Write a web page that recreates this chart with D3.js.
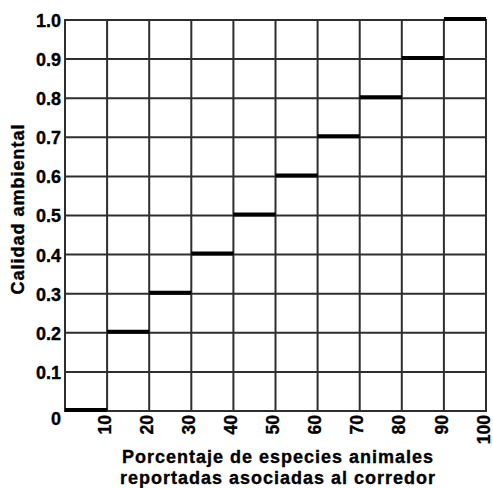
<!DOCTYPE html>
<html>
<head>
<meta charset="utf-8">
<script src="https://cdn.jsdelivr.net/npm/d3@7"></script>
<style>
  html, body { margin: 0; padding: 0; background: #fff; }
  svg { display: block; }
  text { font-family: "Liberation Sans", Arial, sans-serif; font-weight: bold; fill: #000;
         stroke: #000; stroke-width: 0.35px; }
</style>
</head>
<body>
<svg id="chart" width="493" height="488"></svg>
<script>
// Bins of percentage of reported animal species (lower and upper bound)
const binStart = [0, 10, 20, 30, 40, 50, 60, 70, 80, 90];
const binEnd   = [10, 20, 30, 40, 50, 60, 70, 80, 90, 100];
// Environmental quality assigned to each bin
const quality  = [0, 0.2, 0.3, 0.4, 0.5, 0.6, 0.7, 0.8, 0.9, 1.0];

const xTicks = [10, 20, 30, 40, 50, 60, 70, 80, 90, 100];
const yTicks = [0, 0.1, 0.2, 0.3, 0.4, 0.5, 0.6, 0.7, 0.8, 0.9, 1.0];

const svg = d3.select("#chart");
const margin = { left: 65, right: 7, top: 20, bottom: 77 };
const W = 493, H = 488;

const x = d3.scaleLinear().domain([0, 100]).range([margin.left, W - margin.right]);
const y = d3.scaleLinear().domain([0, 1]).range([H - margin.bottom, margin.top]);

const gridColor = "#2e2e2e";
const fontFamily = '"Liberation Sans", Arial, sans-serif';

// Grid
const grid = svg.append("g");
grid.selectAll("line.v").data([0].concat(xTicks)).join("line")
  .attr("x1", d => x(d)).attr("x2", d => x(d))
  .attr("y1", y(0)).attr("y2", y(1))
  .attr("stroke", gridColor).attr("stroke-width", 2);
grid.selectAll("line.h").data(yTicks).join("line")
  .attr("x1", x(0) - 1).attr("x2", x(100) + 1)
  .attr("y1", d => y(d)).attr("y2", d => y(d))
  .attr("stroke", gridColor).attr("stroke-width", 2);

// Y axis labels
const yAxis = d3.axisLeft(y).tickValues(yTicks)
  .tickFormat(d => d === 0 ? "0" : d3.format(".1f")(d))
  .tickSize(0).tickPadding(4);
const gy = svg.append("g").attr("transform", `translate(${x(0)},0)`).call(yAxis);
gy.select(".domain").remove();
gy.selectAll("text")
  .style("font-size", "18px").style("font-family", fontFamily)
  .style("font-weight", "bold").attr("fill", "#000")
  .attr("dy", d => d === 0 ? "0.75em" : "0.36em");

// X axis labels (rotated)
const xAxis = d3.axisBottom(x).tickValues(xTicks).tickFormat(d3.format("d"))
  .tickSize(0).tickPadding(0);
const gx = svg.append("g").attr("transform", `translate(0,${y(0)})`).call(xAxis);
gx.select(".domain").remove();
gx.selectAll("text")
  .style("font-size", "17.5px").style("font-family", fontFamily)
  .style("font-weight", "bold").attr("fill", "#000")
  .attr("transform", "rotate(-90)")
  .attr("text-anchor", "end")
  .attr("x", -4).attr("y", 0).attr("dy", "0.18em");

// Step segments
svg.append("g").selectAll("line").data(quality).join("line")
  .attr("x1", (d, i) => x(binStart[i]))
  .attr("x2", (d, i) => x(binEnd[i]))
  .attr("y1", d => y(d) - 1).attr("y2", d => y(d) - 1)
  .attr("stroke", "#000").attr("stroke-width", 4);

// Axis titles
const xt = svg.append("text").attr("text-anchor", "middle")
  .style("font-size", "18px").style("letter-spacing", "1px");
xt.append("tspan").attr("x", 278).attr("y", 463).text("Porcentaje de especies animales");
xt.append("tspan").attr("x", 278).attr("y", 484).text("reportadas asociadas al corredor");

svg.append("text").attr("text-anchor", "middle")
  .attr("transform", `translate(24,209) rotate(-90)`)
  .style("font-size", "18px").style("letter-spacing", "1px")
  .text("Calidad ambiental");
</script>
</body>
</html>
